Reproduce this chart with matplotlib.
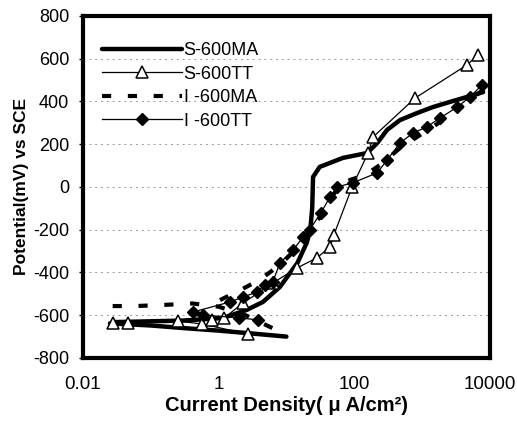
import numpy as np
import matplotlib
matplotlib.use("Agg")
import matplotlib.pyplot as plt
from matplotlib.ticker import FixedLocator, FixedFormatter, NullLocator

plt.rcParams['font.family'] = ['Liberation Sans', 'DejaVu Sans']
plt.rcParams['axes.unicode_minus'] = False

# S-600MA (thick solid) - cathodic and anodic branches
s_ma_cat_x = [10, 3, 1, 0.3, 0.1, 0.025]
s_ma_cat_y = [-700, -685, -672, -660, -648, -638]
s_ma_an_x = [0.03, 0.3, 1.16, 2.6, 4.5, 8, 14.5, 20, 22.5, 24, 24.7, 31, 68, 155, 219,
             305, 473, 845, 1450, 2580, 4570, 7960]
s_ma_an_y = [-632, -625, -613, -575, -538, -468, -356, -260, -200, -100, 47, 94, 136, 159, 206,
             267, 313, 346, 374, 398, 421, 444]

# S-600TT (open triangles)
s_tt_x = [2.7, 0.57, 0.25, 0.046, 0.028, 0.8, 1.2, 2.3, 6.3, 14.3, 28, 44, 50,
          93, 160, 190, 790, 4600, 6700]
s_tt_y = [-688, -641, -627, -636, -636, -622, -613, -543, -449, -379, -332, -281, -225,
          0, 159, 234, 416, 571, 618]

# I-600MA (thick dashed)
i_ma_cat_x = [6.2, 2.5, 1.0, 0.41, 0.15, 0.059, 0.025]
i_ma_cat_y = [-660, -600, -560, -545, -552, -557, -557]
i_ma_an_x = [1.05, 2.1, 4.0, 8, 13.4, 18.8, 26, 40, 49, 62, 87, 145, 240, 473, 935,
             1850, 3660, 7200, 10000]
i_ma_an_y = [-529, -482, -435, -365, -295, -234, -164, -117, -37, 10, 33, 56, 103, 182, 243,
             304, 370, 444, 477]

# I-600TT (filled diamonds)
i_tt_x = [3.8, 2.0, 0.59, 0.42, 1.47, 2.3, 3.7, 4.8, 6.3, 8, 12.5, 17.7, 22, 32, 44, 56,
          96, 218, 305, 473, 740, 1180, 1850, 3300, 5100, 7600]
i_tt_y = [-622, -612, -599, -585, -538, -515, -491, -458, -444, -356, -295, -234, -201, -122,
          -47, 0, 20, 66, 126, 206, 253, 281, 323, 374, 421, 477]

xticks = [0.01, 1, 100, 10000]
xtick_labels = ['0.01', '1', '100', '10000']
yticks = list(range(-800, 801, 200))

fig = plt.figure(figsize=(5.17, 4.24), dpi=100)
ax = fig.add_axes([0.1605, 0.1557, 0.787, 0.8066])

ax.plot(s_ma_cat_x, s_ma_cat_y, color='black', lw=3.2, solid_capstyle='round')
ax.plot(s_ma_an_x, s_ma_an_y, color='black', lw=3.2, solid_capstyle='round', label='S-600MA')
ax.plot(s_tt_x, s_tt_y, color='black', lw=0.9, marker='^', ms=8, mfc='white', mec='black',
        mew=1.1, label='S-600TT')
ax.plot(i_ma_cat_x, i_ma_cat_y, color='black', lw=3.0, dashes=(2.2, 4))
ax.plot(i_ma_an_x, i_ma_an_y, color='black', lw=3.0, dashes=(2.2, 4), label='I -600MA')
ax.plot(i_tt_x, i_tt_y, color='black', lw=0.9, marker='D', ms=6.5, mfc='black', mec='black',
        label='I -600TT')

ax.set_xscale('log')
ax.set_xlim(0.01, 10000)
ax.set_ylim(-800, 800)
ax.xaxis.set_major_locator(FixedLocator(xticks))
ax.xaxis.set_major_formatter(FixedFormatter(xtick_labels))
ax.xaxis.set_minor_locator(NullLocator())
ax.set_yticks(yticks)

ax.yaxis.grid(True, color='0.6', linestyle=(0, (2, 4)), lw=0.7)
ax.set_axisbelow(True)

for sp in ax.spines.values():
    sp.set_linewidth(3)
ax.tick_params(axis='y', length=3, width=1, labelsize=13, pad=7)
ax.tick_params(axis='x', length=0, labelsize=13.5, pad=13)

ax.set_xlabel('Current Density( \u03bc A/cm\u00b2)', fontsize=14.5, fontweight='bold', labelpad=2)
ax.set_ylabel('Potential(mV) vs SCE', fontsize=12.5, fontweight='bold', labelpad=3)

ax.legend(loc='upper left', bbox_to_anchor=(0.03, 0.945), frameon=False, fontsize=13,
          handlelength=4.4, handletextpad=0.1, labelspacing=0.36, numpoints=1,
          borderaxespad=0)

fig.savefig('out.png', dpi=100)
